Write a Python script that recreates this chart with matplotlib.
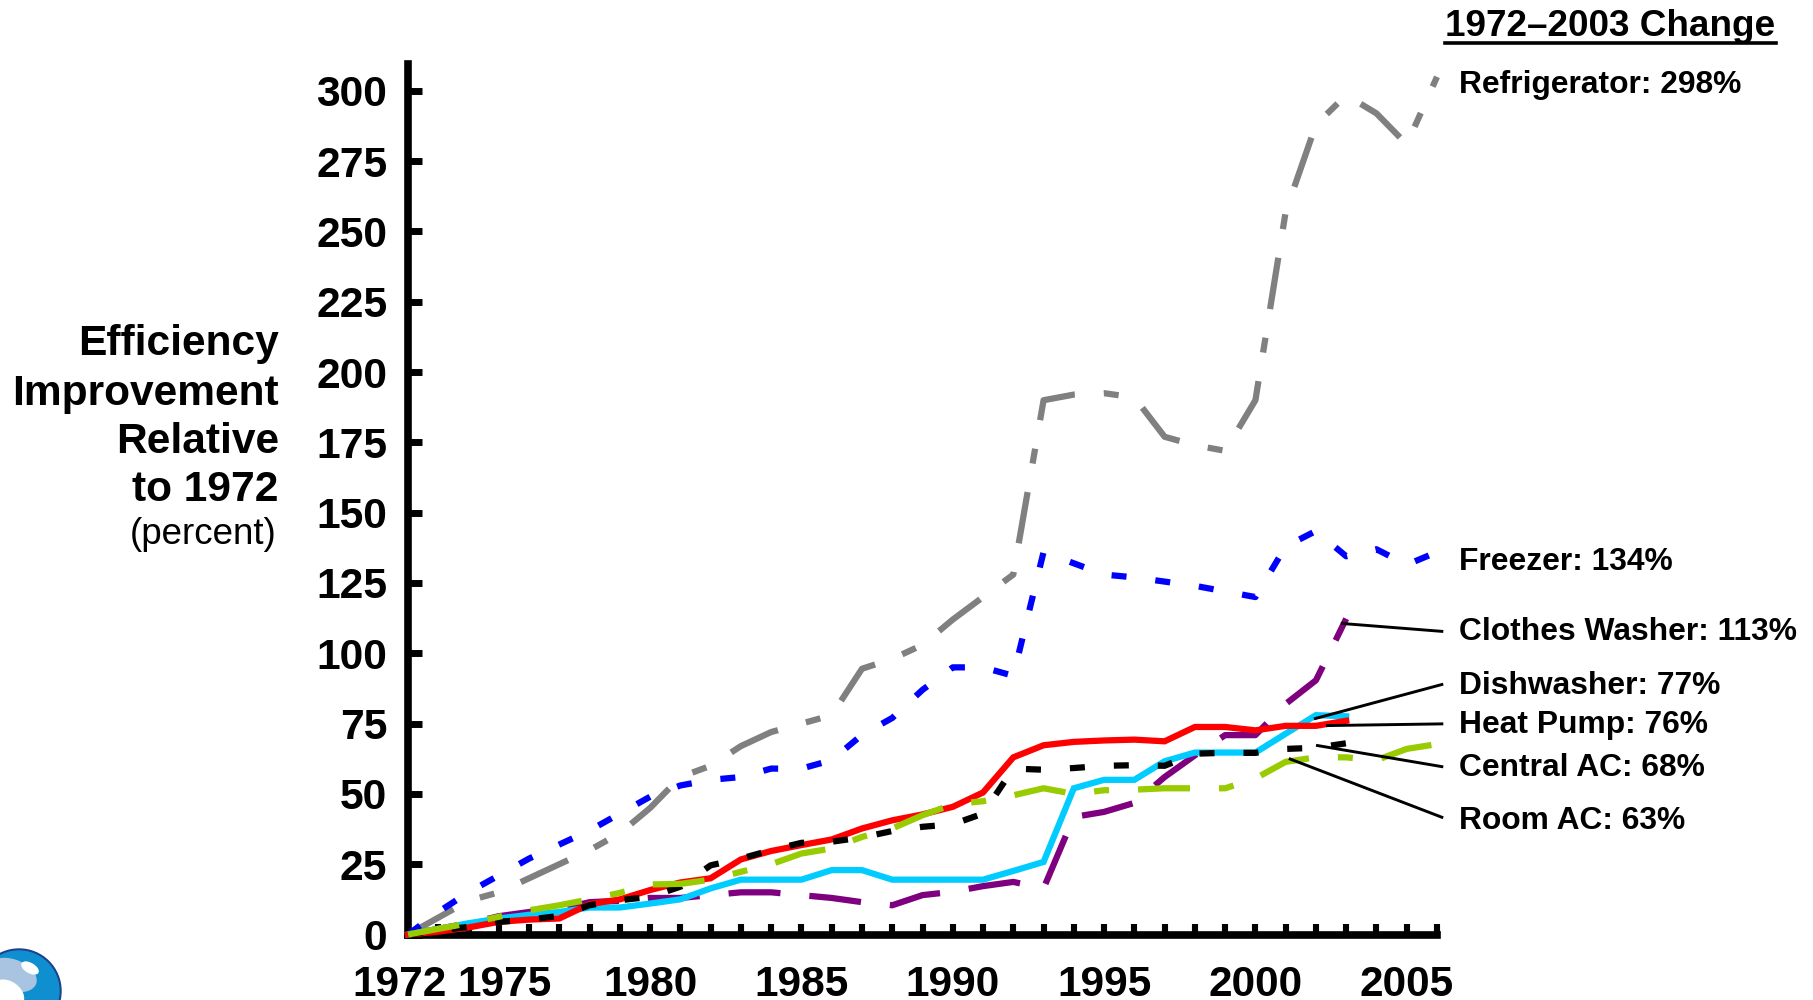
# -*- coding: utf-8 -*-

import numpy as np
from matplotlib import pyplot as plt
from matplotlib.patches import Circle, Ellipse
from matplotlib.transforms import ScaledTranslation

plt.rcParams['font.family'] = ['Liberation Sans', 'DejaVu Sans']
plt.rcParams['lines.scale_dashes'] = False

years = np.arange(1972, 2007)
years_to_2003 = np.arange(1972, 2004)

refrigerator = [0, 6, 12, 15, 20, 25, 30, 36, 45, 56, 60, 67, 72, 75, 78, 94.5, 98, 103,
                112, 120, 128, 190, 192, 192.5, 191, 177, 174, 172, 190, 257, 288, 298.5,
                292, 281, 305]
freezer = [0, 8, 15, 21, 27, 32, 37, 43, 49, 53, 55, 56, 59, 59, 62, 71, 77, 87,
           95, 95, 92, 136, 132, 128, 127, 125.5, 124, 122, 120, 138, 143.5, 134.5,
           137, 131.5, 136]
clothes_washer = [0, 2, 4, 6.5, 8, 9, 11.5, 12, 13, 13, 14, 15, 15, 14, 13, 11.5, 10.4,
                  14, 15.2, 17.2, 18.7, 16.4, 41.8, 43.6, 46.8, 56, 63.7, 70.9, 70.9,
                  82, 90.4, 112.3]
dishwasher = [0, 2, 4, 5.7, 7, 8, 9.6, 9.6, 11, 12.5, 16.4, 19.5, 19.5, 19.5, 22.9, 22.9,
              19.5, 19.5, 19.5, 19.5, 22.6, 25.8, 52, 55, 55, 61.6, 64.7, 64.7, 64.7,
              71.4, 78, 77.6]
heat_pump = [0, 1, 2.5, 4.5, 5.3, 5.7, 10.8, 12.5, 15.8, 18.5, 20, 26.7, 29.7, 31.8, 33.8,
             37.7, 40.6, 42.7, 45.4, 50.5, 63, 67.3, 68.5, 69, 69.3, 68.7, 73.8, 73.8,
             72.6, 74.2, 74.2, 76]
central_ac = [0, 1.5, 2.7, 4.5, 5.3, 6.6, 10.4, 12.2, 13.4, 17, 24.6, 27, 30, 32.6, 33,
              34.5, 36.8, 38.3, 39.2, 43, 59, 58.6, 59.2, 60, 60.2, 60, 64.3, 64.6, 64.6,
              66, 66.4, 68]
room_ac = [0, 2, 4, 6.3, 8.6, 10.4, 12.5, 14.8, 17.8, 18, 19.5, 22.3, 25, 28.8, 30.6, 34.7,
           37.7, 42.4, 46.3, 47.4, 49.5, 52, 50, 51.3, 51.5, 52, 52, 52, 55.5, 61.4, 63,
           63, 62, 66, 67.7]

y_ticks = np.arange(0, 301, 25)
x_labelled = [1972, 1975, 1980, 1985, 1990, 1995, 2000, 2005]

ylabel_lines = ['Efficiency', 'Improvement', 'Relative', 'to 1972']
change_labels = ['Refrigerator: 298%', 'Freezer: 134%', 'Clothes Washer: 113%', 'Dishwasher: 77%',
                 'Heat Pump: 76%', 'Central AC: 68%', 'Room AC: 63%']
change_y = [85, 562, 632, 686, 725, 768, 821]

# leader lines: start year, start value, end year, end value
leaders = [(2002.87, 110.6, 2006.16, 107.8),
           (2001.98, 76.8, 2006.16, 88.9),
           (2002.38, 74.3, 2006.16, 74.9),
           (2002.05, 67.2, 2006.16, 59.7),
           (2001.15, 62.4, 2006.16, 41.7)]

W, H = 1813.0, 1000.0
PX = 0.72  # points per pixel at dpi 100

long_dot = (0, (52 * PX, 29 * PX, 15 * PX, 29 * PX))
long_dash = (0, (52 * PX, 29 * PX))
short_dash = (0, (15 * PX, 29 * PX))

fig = plt.figure(figsize=(W / 100, H / 100), dpi=100)
ax = fig.add_axes([408 / W, 1 - 934.5 / H, (1437 - 408) / W, (934.5 - 64) / H])

line_kw = {'linewidth': 4.5, 'clip_on': False, 'dash_capstyle': 'butt', 'solid_joinstyle': 'miter'}
ax.plot(years, refrigerator, color='#808080', linestyle=long_dot, zorder=3, **line_kw)
ax.plot(years, freezer, color='#0000ff', linestyle=short_dash, zorder=3.1, **line_kw)
ax.plot(years_to_2003, clothes_washer, color='#7f007f', linestyle=long_dash, zorder=3.2, **line_kw)
ax.plot(years_to_2003, dishwasher, color='#00ccff', zorder=3.3, **line_kw)
ax.plot(years_to_2003, heat_pump, color='#ff0000', zorder=3.4, **line_kw)
ax.plot(years_to_2003, central_ac, color='black', linestyle=short_dash, zorder=3.5, **line_kw)
ax.plot(years, room_ac, color='#99cc00', linestyle=long_dot, zorder=3.6, **line_kw)

for x0, y0, x1, y1 in leaders:
    ax.plot([x0, x1], [y0, y1], color='black', linewidth=2.1, clip_on=False, zorder=4)

ax.set_xlim(1972, 2006)
ax.set_ylim(0, (934.5 - 64) / 2.812)
for side in ('top', 'right'):
    ax.spines[side].set_visible(False)
for side in ('left', 'bottom'):
    ax.spines[side].set_linewidth(5.5)

ax.set_yticks(y_ticks)
ax.set_xticks(years)
ax.set_xticklabels([str(y) if y in x_labelled else '' for y in years])
ax.tick_params(axis='y', direction='in', length=10, width=5, pad=15, labelsize=30.7)
ax.tick_params(axis='x', direction='in', length=8, width=4.4, pad=22, labelsize=30.5)
for label in ax.get_yticklabels() + ax.get_xticklabels():
    label.set_fontweight('bold')

# first two year labels sit a bit off their ticks
for label, shift in zip(ax.get_xticklabels()[:4], (-8, 0, 0, 6)):
    label.set_transform(label.get_transform() + ScaledTranslation(shift / 100, 0, fig.dpi_scale_trans))

for text, y in zip(ylabel_lines, (344, 394, 442, 490)):
    fig.text(279 / W, 1 - y / H, text, ha='right', va='center', fontsize=30.6, fontweight='bold')
fig.text(276 / W, 1 - 534 / H, '(percent)', ha='right', va='center', fontsize=26.5)

fig.text(1445 / W, 1 - 26 / H, '1972–2003 Change', ha='left', va='center', fontsize=26.6, fontweight='bold')
fig.add_artist(plt.Line2D([1445 / W, 1776 / W], [1 - 43 / H, 1 - 43 / H], color='black', linewidth=2.6))

for text, y in zip(change_labels, change_y):
    fig.text(1459 / W, 1 - y / H, text, ha='left', va='center', fontsize=22.9, fontweight='bold')

# logo in the corner, cut off by the page edge
logo = fig.add_axes([0, 0, 1, 1], facecolor='none')
logo.set_xlim(0, W)
logo.set_ylim(H, 0)
logo.axis('off')
logo.add_patch(Circle((19, 991), 42, color='#1b3f8f', zorder=1))
logo.add_patch(Circle((19, 991), 40, color='#0f8fd0', zorder=2))
logo.add_patch(Ellipse((12, 975), 50, 30, angle=20, color='#a9c4e0', zorder=3))
logo.add_patch(Ellipse((30, 968), 18, 9, angle=30, color='white', zorder=4))
logo.add_patch(Ellipse((8, 994), 34, 24, angle=35, color='white', zorder=4))

plt.savefig('out.png', dpi=100)
